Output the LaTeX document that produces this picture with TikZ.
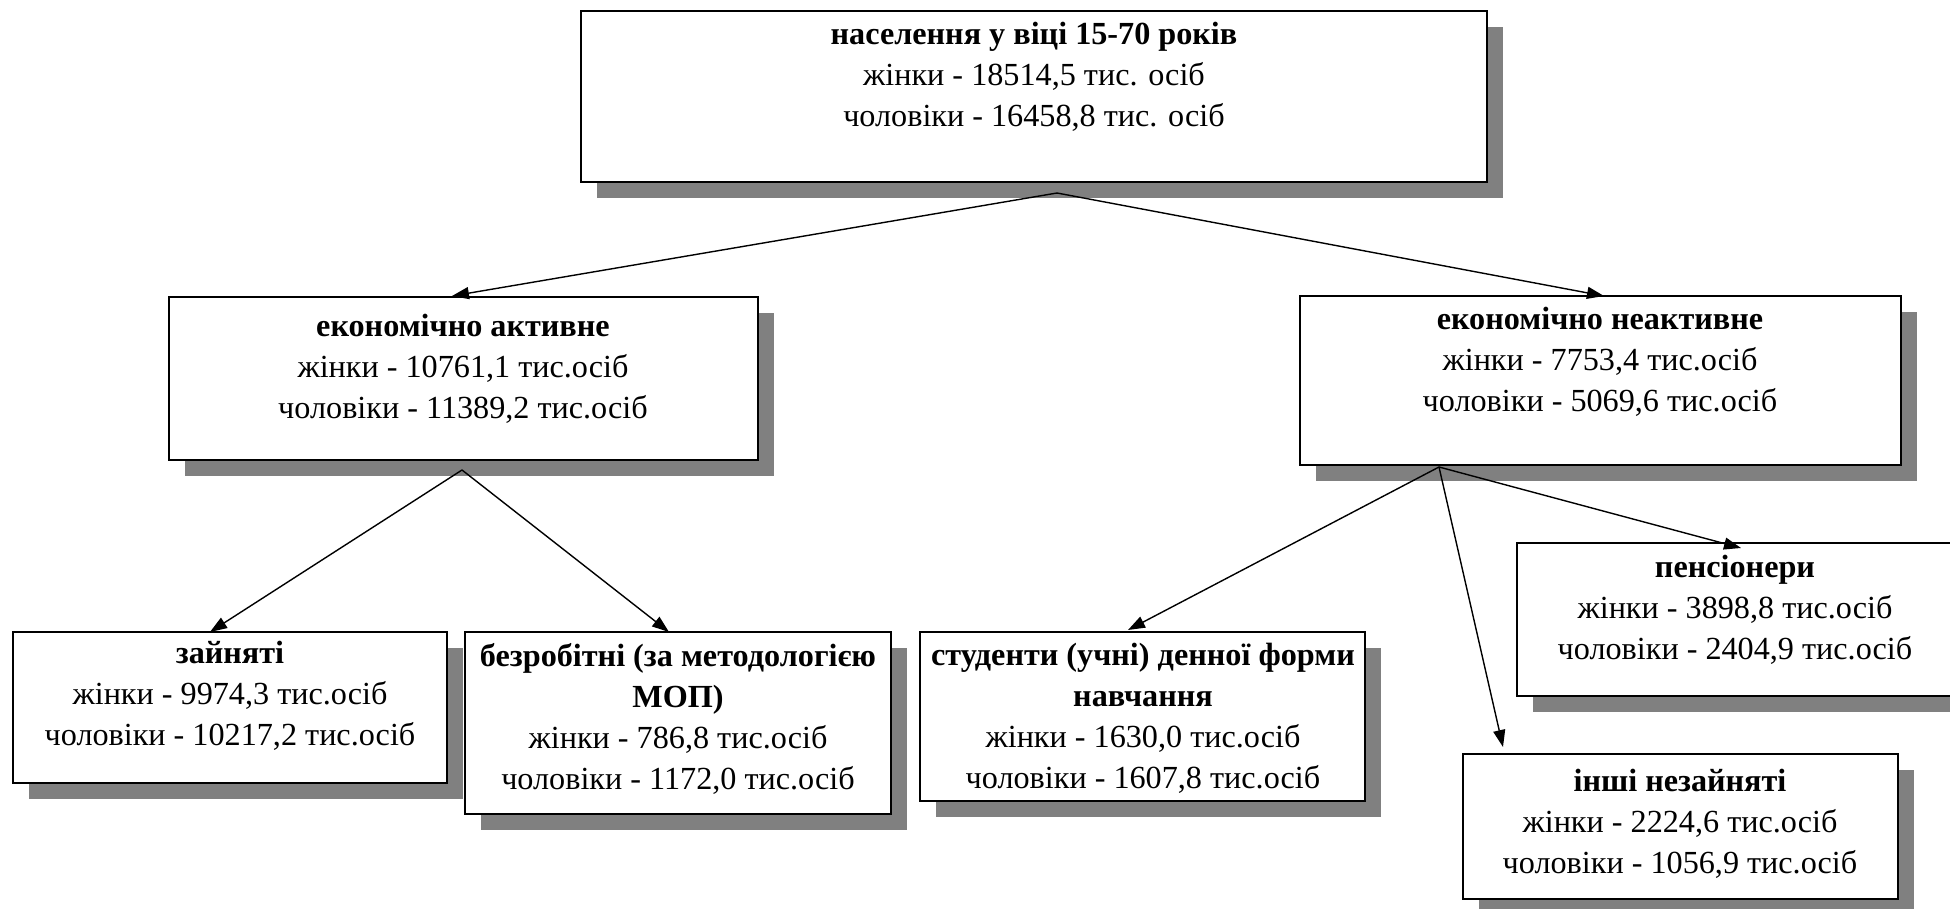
\documentclass[tikz,border=0pt]{standalone}
\usepackage{fontspec}
\setmainfont{Liberation Serif}
\usetikzlibrary{shadows,arrows.meta,calc}
\definecolor{shadowgray}{RGB}{128,128,128}
\begin{document}
\begin{tikzpicture}[x=0.5pt,y=-0.5pt,
  box/.style={draw=black, line width=1pt, fill=white, rectangle, inner sep=0pt, outer sep=0pt, anchor=north west,
    general shadow={shadow xshift=8pt, shadow yshift=-8pt, fill=shadowgray}},
  lbl/.style={anchor=north, inner sep=0pt, align=center, font=\fontsize{16.1}{20.5}\selectfont},
  arr/.style={-{Triangle[length=8.5pt,width=6pt]}, line width=0.7pt}]
\path[use as bounding box] (0,0) rectangle (1950,909);
\clip (0,0) rectangle (1950,909);

% boxes
\node[box, minimum width=453pt, minimum height=85.5pt] (top) at (581,11) {};
\node[box, minimum width=294.5pt, minimum height=81.5pt] (act) at (169,297) {};
\node[box, minimum width=300.5pt, minimum height=84.5pt] (inact) at (1300,296) {};
\node[box, minimum width=217pt, minimum height=75.5pt] (zay) at (13,632) {};
\node[box, minimum width=213pt, minimum height=91pt] (bez) at (465,632) {};
\node[box, minimum width=222.5pt, minimum height=84.5pt] (stud) at (920,632) {};
\node[box, minimum width=219pt, minimum height=76.5pt] (pens) at (1517,543) {};
\node[box, minimum width=217.5pt, minimum height=72.5pt] (inshi) at (1463,754) {};

% texts
\node[lbl] (topt) at (1034,15) {\strut\textbf{населення у віці 15-70 років}\\жінки - 18514,5 тис. осіб\\чоловіки - 16458,8 тис. осіб};
\node[lbl] (actt) at (463,307) {\strut\textbf{економічно активне}\\жінки - 10761,1 тис.осіб\\чоловіки - 11389,2 тис.осіб};
\node[lbl] (inactt) at (1600,300) {\strut\textbf{економічно неактивне}\\жінки - 7753,4 тис.осіб\\чоловіки - 5069,6 тис.осіб};
\node[lbl] (zayt) at (230,634) {\strut\textbf{зайняті}\\жінки - 9974,3 тис.осіб\\чоловіки - 10217,2 тис.осіб};
\node[lbl] (bezt) at (678,637) {\strut\textbf{безробітні (за методологією}\\\textbf{МОП)}\\жінки - 786,8 тис.осіб\\чоловіки - 1172,0 тис.осіб};
\node[lbl] (studt) at (1143,636) {\strut\textbf{студенти (учні) денної форми}\\\textbf{навчання}\\жінки - 1630,0 тис.осіб\\чоловіки - 1607,8 тис.осіб};
\node[lbl] (penst) at (1735,548) {\strut\textbf{пенсіонери}\\жінки - 3898,8 тис.осіб\\чоловіки - 2404,9 тис.осіб};
\node[lbl] (inshit) at (1680,762) {\strut\textbf{інші незайняті}\\жінки - 2224,6 тис.осіб\\чоловіки - 1056,9 тис.осіб};

% connector origins
\coordinate (ta) at (1057,193);
\coordinate (aa) at (462,470);
\coordinate (ia) at (1439,467);

% connectors
\draw[arr] (ta) -- ($(act.north west)+(283,-1)$);
\draw[arr] (ta) -- ($(inact.north west)+(304,0)$);
\draw[arr] (aa) -- ($(zay.north west)+(197,0)$);
\draw[arr] (aa) -- ($(bez.north west)+(204,0)$);
\draw[arr] (ia) -- ($(stud.north west)+(208,-2)$);
\draw[arr] (ia) -- ($(inshi.north west)+(40,-7)$);
\draw[arr] (ia) -- ($(pens.north west)+(224,5)$);
\end{tikzpicture}
\end{document}
